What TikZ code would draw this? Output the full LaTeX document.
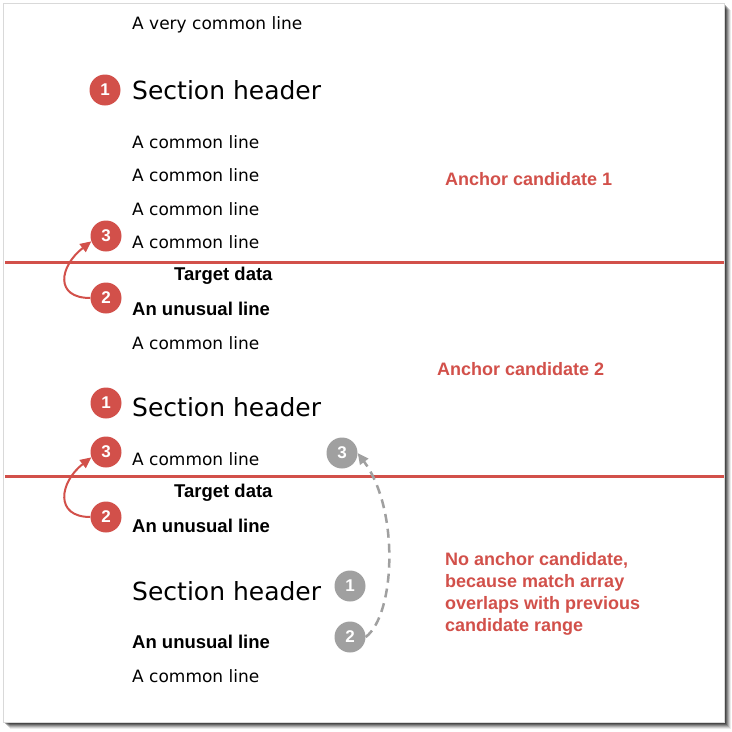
\documentclass[tikz,border=0pt]{standalone}
\usepackage{fontspec}
\setmainfont{DejaVu Sans}
\newfontfamily\boldfam{Liberation Sans}
\usetikzlibrary{arrows.meta}
\definecolor{hred}{RGB}{210,80,74}
\definecolor{hgray}{RGB}{160,160,160}
\tikzset{
  txt/.style={anchor=west,inner sep=0pt,font=\fontsize{17}{20}\selectfont},
  hdr/.style={anchor=west,inner sep=0pt,font=\fontsize{25}{30}\selectfont},
  bld/.style={anchor=west,inner sep=0pt,font=\boldfam\bfseries\fontsize{18.5}{22}\selectfont},
  lbl/.style={anchor=west,inner sep=0pt,text=hred,font=\boldfam\bfseries\fontsize{18}{22}\selectfont},
  badge/.style={circle,fill=#1,text=white,minimum size=31pt,inner sep=0pt,font=\boldfam\bfseries\fontsize{17}{20}\selectfont},
  redline/.style={draw=hred,line width=3pt},
  tip/.style={-{Triangle[length=11pt,width=10pt]}},
}
\begin{document}
\begin{tikzpicture}[x=1pt,y=-1pt]
\useasboundingbox (0,0) rectangle (732,732);
\fill[white] (0,0) rectangle (732,732);
% page shadow
\foreach \d/\o in {7/0.08,6/0.12,5/0.16,4/0.2,3/0.25,2/0.3}{
  \fill[black,opacity=\o] (3+\d,3+\d) rectangle (724+\d,722+\d);
}
\fill[white] (3,3) rectangle (724,722);
\draw[black!15,line width=0.6pt] (3,3) rectangle (724,722);

\node[txt] (t0) at (132,25) {A very common line};
\node[badge=hred] (c1a) at (105,90) {1};
\node[hdr] (h1) at (132,90) {Section header};
\node[txt] (l1) at (132,142) {A common line};
\node[txt] (l2) at (132,175) {A common line};
\node[txt] (l3) at (132,209) {A common line};
\node[txt] (l4) at (132,242) {A common line};
\node[badge=hred] (c3a) at (106,236) {3};
\coordinate (r1a) at (5,262);
\coordinate (r1b) at (724,262);
\draw[redline] (r1a) -- (r1b);
\node[bld] (td1) at (174,276) {Target data};
\node[badge=hred] (c2a) at (106,298) {2};
\node[bld] (u1) at (132,309) {An unusual line};
\node[txt] (l5) at (132,343) {A common line};
\node[lbl] (ac1) at (445,179) {Anchor candidate 1};
\node[lbl] (ac2) at (437,369) {Anchor candidate 2};

\node[badge=hred] (c1b) at (106,403) {1};
\node[hdr] (h2) at (132,407) {Section header};
\node[badge=hred] (c3b) at (106,452) {3};
\node[txt] (l6) at (132,459) {A common line};
\node[badge=hgray] (g3) at (342,453) {3};
\coordinate (r2a) at (5,476);
\coordinate (r2b) at (724,476);
\draw[redline] (r2a) -- (r2b);
\node[bld] (td2) at (174,493) {Target data};
\node[badge=hred] (c2b) at (106,517) {2};
\node[bld] (u2) at (132,526) {An unusual line};

\node[hdr] (h3) at (132,591) {Section header};
\node[badge=hgray] (g1) at (350,586) {1};
\node[bld] (u3) at (132,642) {An unusual line};
\node[badge=hgray] (g2) at (350,637) {2};
\node[txt] (l7) at (132,676) {A common line};

\node[lbl,anchor=north west,align=left] (na) at (445,552)
  {No anchor candidate,\\because match array\\overlaps with previous\\candidate range};

% arrows
\draw[hred,line width=2pt,tip]
  (c2a.180) .. controls +(-36,0) and +(-32,25) .. (c3a.200);
\draw[hred,line width=2pt,tip]
  (c2b.180) .. controls +(-36,0) and +(-32,25) .. (c3b.200);
\draw[hgray,line width=2.5pt,dash pattern=on 9pt off 6pt,tip]
  (g2.east) .. controls (395,615) and (400,510) .. (g3.east);
\end{tikzpicture}
\end{document}
